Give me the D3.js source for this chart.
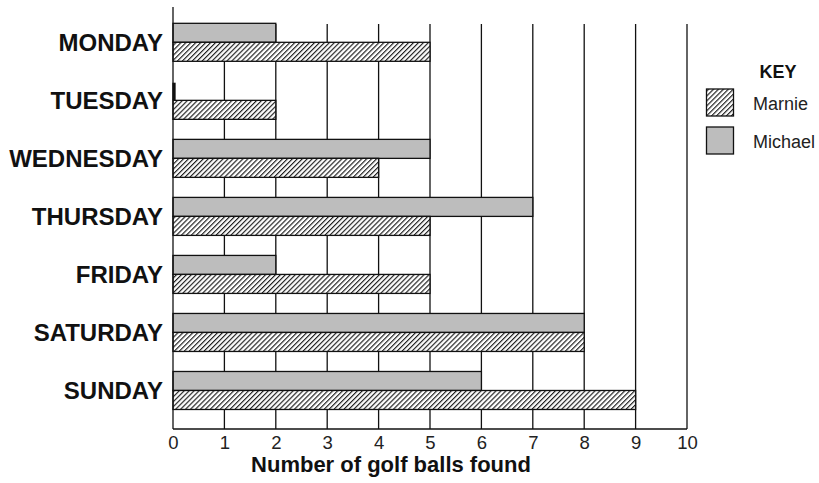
<!DOCTYPE html>
<html>
<head>
<meta charset="utf-8">
<script src="https://cdn.jsdelivr.net/npm/d3@7"></script>
<style>
    body { margin: 0; background: #fff; }
    svg { display: block; }
</style>
</head>
<body>
<svg id="chart"></svg>
<script>
let days = ['MONDAY', 'TUESDAY', 'WEDNESDAY', 'THURSDAY', 'FRIDAY', 'SATURDAY', 'SUNDAY'];
let marnie = [5, 2, 4, 5, 5, 8, 9];
let michael = [2, 0, 5, 7, 2, 8, 6];
let xTicks = [0, 1, 2, 3, 4, 5, 6, 7, 8, 9, 10];

let width = 819;
let height = 483;
let config = {
    left: 173,
    right: 687,
    axisTop: 7,
    gridTop: 24,
    bottom: 429,
    bandTop: 13.3,
    bandBottom: 419.5,
    barH: 19
};

let svg = d3.select('#chart')
    .attr('width', width)
    .attr('height', height);

// hatch for Marnie
let defs = svg.append('defs');
defs.append('pattern')
    .attr('id', 'hatch')
    .attr('patternUnits', 'userSpaceOnUse')
    .attr('width', 3.5)
    .attr('height', 10)
    .attr('patternTransform', 'rotate(45)')
    .call(p => {
        p.append('rect').attr('width', 3.5).attr('height', 10).attr('fill', '#fff');
        p.append('line')
            .attr('x1', 0.6).attr('x2', 0.6)
            .attr('y1', 0).attr('y2', 10)
            .attr('stroke', '#111')
            .attr('stroke-width', 1.1);
    });

let xScale = d3.scaleLinear()
    .domain([0, 10])
    .range([config.left, config.right]);
let yScale = d3.scaleBand()
    .domain(days)
    .range([config.bandTop, config.bandBottom]);

// vertical grid lines
svg.append('g')
    .selectAll('line')
    .data(xTicks.slice(1))
    .join('line')
    .attr('x1', d => xScale(d))
    .attr('x2', d => xScale(d))
    .attr('y1', config.gridTop)
    .attr('y2', config.bottom)
    .attr('stroke', '#111')
    .attr('stroke-width', 1.3);

let rows = days.map((d, i) => ({day: d, marnie: marnie[i], michael: michael[i]}));
let center = d => yScale(d) + yScale.bandwidth() / 2;

// Michael bars (top); a zero shows as a thin black stub
svg.append('g')
    .selectAll('rect')
    .data(rows)
    .join('rect')
    .attr('x', xScale(0))
    .attr('y', d => d.michael === 0 ? center(d.day) - config.barH + 2 : center(d.day) - config.barH)
    .attr('width', d => Math.max(xScale(d.michael) - xScale(0), 2))
    .attr('height', d => d.michael === 0 ? config.barH - 3 : config.barH)
    .attr('fill', d => d.michael === 0 ? '#111' : '#bdbdbd')
    .attr('stroke', '#111')
    .attr('stroke-width', 1.3);

// Marnie bars (below)
svg.append('g')
    .selectAll('rect')
    .data(rows)
    .join('rect')
    .attr('x', xScale(0))
    .attr('y', d => center(d.day))
    .attr('width', d => xScale(d.marnie) - xScale(0))
    .attr('height', config.barH)
    .attr('fill', 'url(#hatch)')
    .attr('stroke', '#111')
    .attr('stroke-width', 1.3);

// axes
svg.append('line')
    .attr('x1', xScale(0)).attr('x2', xScale(0))
    .attr('y1', config.axisTop).attr('y2', config.bottom)
    .attr('stroke', '#111').attr('stroke-width', 1.3);
svg.append('line')
    .attr('x1', xScale(0)).attr('x2', xScale(10))
    .attr('y1', config.bottom).attr('y2', config.bottom)
    .attr('stroke', '#111').attr('stroke-width', 1.3);

let xAx = d3.axisBottom(xScale)
    .tickValues(xTicks)
    .tickSize(0)
    .tickPadding(0);
let xAxGroup = svg.append('g')
    .attr('transform', `translate(0,${config.bottom})`)
    .call(xAx);
xAxGroup.select('.domain').remove();
xAxGroup.selectAll('text')
    .attr('y', 20)
    .attr('dy', 0)
    .style('font-family', '"Liberation Sans", Arial, sans-serif')
    .style('font-size', '18.5px')
    .style('font-weight', 300)
    .attr('fill', '#222');

// day labels
svg.append('g')
    .selectAll('text')
    .data(days)
    .join('text')
    .attr('x', 163)
    .attr('y', d => center(d) + 8.5)
    .attr('text-anchor', 'end')
    .style('font-family', '"Liberation Sans", Arial, sans-serif')
    .style('font-size', '24px')
    .style('font-weight', 'bold')
    .attr('fill', '#111')
    .text(d => d);

svg.append('text')
    .attr('x', 391)
    .attr('y', 472)
    .attr('text-anchor', 'middle')
    .style('font-family', '"Liberation Sans", Arial, sans-serif')
    .style('font-size', '22px')
    .style('font-weight', 'bold')
    .attr('fill', '#111')
    .text('Number of golf balls found');

// key
let key = svg.append('g');
key.append('text')
    .attr('x', 778)
    .attr('y', 78)
    .attr('text-anchor', 'middle')
    .style('font-family', '"Liberation Sans", Arial, sans-serif')
    .style('font-size', '18px')
    .style('font-weight', 'bold')
    .attr('fill', '#111')
    .text('KEY');
let keyItems = [
    {name: 'Marnie', fill: 'url(#hatch)', y: 89},
    {name: 'Michael', fill: '#bdbdbd', y: 127}
];
key.selectAll('rect')
    .data(keyItems)
    .join('rect')
    .attr('x', 706.5)
    .attr('y', d => d.y)
    .attr('width', 27)
    .attr('height', 27)
    .attr('fill', d => d.fill)
    .attr('stroke', '#111')
    .attr('stroke-width', 1.3);
key.selectAll('.label')
    .data(keyItems)
    .join('text')
    .attr('class', 'label')
    .attr('x', 753)
    .attr('y', d => d.y + 21)
    .style('font-family', '"Liberation Sans", Arial, sans-serif')
    .style('font-size', '18px')
    .attr('fill', '#222')
    .text(d => d.name);
</script>
</body>
</html>
